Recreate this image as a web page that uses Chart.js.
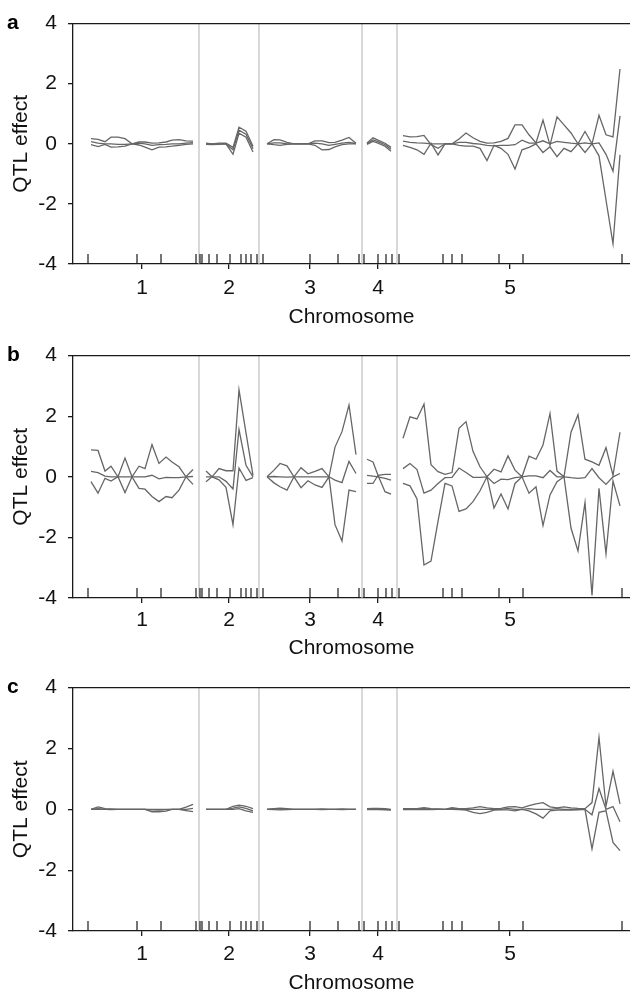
<!DOCTYPE html>
<html>
<head>
<meta charset="utf-8">
<script src="https://cdn.jsdelivr.net/npm/chart.js@4.4.1/dist/chart.umd.min.js"></script>
<style>
  body { margin: 0; background: #fff; }
  .panel { width: 630px; height: 332px; }
</style>
</head>
<body>
<div class="panel"><canvas id="chartA" width="630" height="332"></canvas></div>
<div class="panel"><canvas id="chartB" width="630" height="332"></canvas></div>
<div class="panel"><canvas id="chartC" width="630" height="332"></canvas></div>
<script>
// genome layout on the x axis (cumulative map position)
const chrNames = ['1', '2', '3', '4', '5'];
const chrLabelPos = [69, 156, 237, 305, 437];
const chrBounds = [126, 186, 289, 324];
const markerPos = [15, 64, 88, 123, 127, 129, 136, 144, 157, 168, 173, 178, 184,
  190, 237, 265, 286, 291, 305, 313, 319, 326, 370, 379, 389, 426, 450, 549];

// scan points, chromosome by chromosome
const chrSizes = [16, 8, 14, 5, 32];
const scanPos = [
  18, 25, 32, 38, 45, 52, 59, 66, 72, 79, 86, 93, 99, 106, 113, 120,
  133, 139, 146, 153, 160, 166, 173, 180,
  194, 201, 207, 214, 221, 228, 235, 242, 249, 256, 262, 269, 276, 283,
  294, 300, 305, 312, 318,
  330, 337, 344, 351, 358, 365, 372, 379, 386, 393, 400, 407, 414, 421, 428, 435,
  442, 449, 456, 463, 470, 477, 484, 491, 498, 505, 512, 519, 526, 533, 540, 547
];

// panel a
const aUpper = [
  0.17, 0.15, 0.07, 0.22, 0.22, 0.17, 0.00, 0.06, 0.06, 0.02, 0.03, 0.06, 0.12, 0.14, 0.10, 0.09,
  0.02, 0.00, 0.02, 0.02, -0.12, 0.55, 0.42, -0.08,
  0.00, 0.14, 0.13, 0.05, 0.00, 0.00, 0.00, 0.10, 0.10, 0.04, 0.05, 0.12, 0.21, 0.02,
  0.03, 0.20, 0.12, 0.02, -0.12,
  0.27, 0.23, 0.24, 0.28, -0.03, -0.15, 0.00, 0.00, 0.16, 0.36, 0.20, 0.08, 0.02, 0.03, 0.08, 0.18,
  0.63, 0.63, 0.30, 0.03, 0.79, -0.05, 0.90, 0.63, 0.36, 0.00, 0.41, 0.00, 0.95, 0.30, 0.23, 2.49
];
const aMiddle = [
  0.07, 0.02, 0.00, 0.00, -0.02, -0.02, 0.00, 0.02, 0.00, -0.05, -0.03, -0.02, 0.00, 0.00, 0.02, 0.04,
  0.00, 0.00, 0.00, 0.00, -0.20, 0.45, 0.32, -0.16,
  0.00, 0.03, 0.03, 0.00, 0.00, 0.00, 0.00, 0.02, 0.00, -0.05, -0.02, 0.02, 0.05, 0.01,
  0.00, 0.13, 0.07, -0.03, -0.18,
  0.09, 0.05, 0.03, 0.02, 0.00, 0.00, 0.00, 0.00, 0.05, 0.05, 0.01, -0.01, -0.05, -0.07, -0.05, -0.05,
  -0.03, 0.12, 0.02, 0.02, 0.10, 0.00, 0.08, 0.05, 0.02, 0.00, 0.03, 0.00, 0.03, -0.35, -0.91, 0.93
];
const aLower = [
  -0.03, -0.09, -0.02, -0.11, -0.10, -0.08, 0.00, -0.04, -0.11, -0.20, -0.11, -0.10, -0.08, -0.05, -0.02, 0.00,
  -0.02, -0.03, -0.02, 0.00, -0.35, 0.35, 0.22, -0.27,
  0.00, -0.03, -0.05, -0.02, 0.00, 0.00, 0.00, -0.05, -0.20, -0.19, -0.10, -0.03, 0.00, 0.00,
  -0.02, 0.08, 0.02, -0.08, -0.25,
  -0.05, -0.12, -0.20, -0.35, 0.02, -0.37, 0.00, 0.00, -0.05, -0.08, -0.08, -0.15, -0.56, -0.05, -0.15, -0.35,
  -0.84, -0.20, -0.12, 0.00, -0.29, -0.10, -0.43, -0.15, -0.26, 0.00, -0.29, 0.00, -0.40, -1.87, -3.33, -0.37
];

// panel b
const bUpper = [
  0.89, 0.87, 0.19, 0.35, 0.00, 0.62, 0.00, 0.35, 0.27, 1.06, 0.44, 0.65, 0.49, 0.33, 0.00, 0.24,
  0.19, 0.00, 0.27, 0.20, 0.20, 2.87, 1.45, 0.05,
  0.00, 0.22, 0.44, 0.36, 0.00, 0.30, 0.10, 0.18, 0.27, 0.00, 0.98, 1.49, 2.37, 0.73,
  0.58, 0.49, 0.05, -0.49, -0.57,
  1.27, 1.98, 1.91, 2.40, 0.40, 0.17, 0.08, 0.14, 1.60, 1.82, 0.84, 0.33, 0.00, 0.25, 0.16, 0.69,
  0.22, 0.00, 0.68, 0.58, 1.05, 2.09, 0.19, 0.00, 1.47, 2.05, 0.58, 0.49, 0.38, 0.96, 0.05, 1.47
];
const bMiddle = [
  0.18, 0.14, 0.02, 0.00, 0.00, 0.00, 0.00, 0.00, 0.00, 0.05, -0.07, -0.02, -0.03, -0.03, 0.00, 0.01,
  0.00, 0.00, 0.00, -0.15, -0.40, 1.56, 0.38, 0.00,
  0.00, 0.01, 0.00, -0.01, 0.00, 0.00, 0.00, 0.00, 0.00, 0.00, -0.11, -0.19, 0.51, 0.11,
  0.05, 0.02, 0.00, -0.05, -0.11,
  0.27, 0.44, 0.24, -0.54, -0.44, -0.22, -0.03, -0.02, 0.29, 0.14, -0.02, -0.02, 0.00, -0.22, -0.08, -0.09,
  -0.03, 0.00, 0.03, 0.03, -0.03, 0.21, 0.00, 0.00, -0.03, -0.05, -0.03, 0.27, -0.03, -0.25, 0.00, 0.11
];
const bLower = [
  -0.16, -0.54, -0.05, -0.14, 0.00, -0.52, 0.00, -0.38, -0.41, -0.65, -0.82, -0.65, -0.69, -0.44, 0.00, -0.25,
  -0.16, 0.00, -0.10, -0.35, -1.58, 0.29, -0.12, -0.03,
  0.00, -0.20, -0.33, -0.44, 0.00, -0.36, -0.13, -0.27, -0.35, 0.00, -1.58, -2.12, -0.44, -0.49,
  -0.22, -0.22, 0.05, 0.08, 0.08,
  -0.22, -0.30, -0.73, -2.91, -2.78, -1.47, -0.22, -0.30, -1.14, -1.06, -0.82, -0.46, 0.00, -1.03, -0.57, -1.06,
  -0.22, 0.00, -0.54, -0.33, -1.61, -0.60, -0.16, 0.00, -1.69, -2.45, -0.85, -3.92, -0.38, -2.54, -0.14, -0.96
];

// panel c
const cUpper = [
  0.00, 0.08, 0.02, 0.01, 0.00, 0.00, 0.00, 0.00, 0.00, 0.00, 0.00, 0.00, 0.00, 0.00, 0.07, 0.16,
  0.00, 0.00, 0.00, 0.00, 0.10, 0.14, 0.10, 0.02,
  0.00, 0.02, 0.04, 0.02, 0.00, 0.00, 0.00, 0.00, 0.01, 0.00, 0.00, 0.01, 0.00, 0.00,
  0.02, 0.03, 0.03, 0.02, 0.00,
  0.02, 0.02, 0.02, 0.05, 0.02, 0.01, 0.00, 0.05, 0.02, 0.02, 0.05, 0.09, 0.05, 0.02, 0.03, 0.08,
  0.09, 0.05, 0.12, 0.18, 0.22, 0.08, 0.05, 0.08, 0.05, 0.03, 0.02, 0.22, 2.36, 0.10, 1.25, 0.18
];
const cMiddle = [
  0.00, 0.02, 0.00, 0.00, 0.00, 0.00, 0.00, 0.00, 0.00, -0.02, -0.03, -0.01, 0.00, 0.00, 0.00, 0.03,
  0.00, 0.00, 0.00, 0.00, 0.04, 0.08, 0.03, -0.05,
  0.00, 0.01, 0.01, 0.00, 0.00, 0.00, 0.00, 0.00, 0.00, 0.00, 0.00, 0.00, 0.00, 0.00,
  0.01, 0.01, 0.01, 0.00, -0.01,
  0.00, 0.00, 0.00, 0.02, 0.00, 0.00, 0.00, 0.02, 0.00, 0.00, 0.00, 0.00, 0.00, 0.00, 0.00, 0.03,
  0.00, 0.00, 0.02, 0.00, 0.00, 0.00, 0.02, 0.00, 0.00, 0.00, 0.00, -0.18, 0.68, 0.00, 0.09, -0.41
];
const cLower = [
  0.00, 0.00, 0.00, -0.01, 0.00, 0.00, 0.00, 0.00, 0.00, -0.08, -0.08, -0.06, 0.00, 0.00, -0.04, -0.08,
  0.00, 0.00, 0.00, 0.00, 0.00, 0.02, -0.05, -0.10,
  0.00, -0.01, -0.02, -0.01, 0.00, 0.00, 0.00, 0.00, -0.01, 0.00, 0.00, -0.01, 0.00, 0.00,
  -0.01, -0.01, -0.01, -0.02, -0.03,
  -0.01, -0.01, -0.01, 0.00, -0.01, 0.00, 0.00, 0.00, -0.01, -0.03, -0.10, -0.14, -0.10, -0.03, -0.02, -0.02,
  -0.05, 0.00, -0.05, -0.15, -0.29, -0.05, -0.03, -0.02, -0.03, -0.02, 0.00, -1.30, -0.10, -0.05, -1.09, -1.36
];

const FONT = '"Liberation Sans", Arial, Helvetica, sans-serif';
const LINE = '#666666';
const AXIS = '#1a1a1a';
const markH = 0.33;  // marker tick height in effect units

// one line per effect, broken between chromosomes
function scanData(vals) {
  const out = [];
  let k = 0;
  chrSizes.forEach(n => {
    for (let i = 0; i < n; i++, k++) out.push({ x: scanPos[k], y: vals[k] });
    out.push({ x: scanPos[k - 1] + 1, y: null });
  });
  return out;
}

function markerData() {
  const out = [];
  markerPos.forEach(m => out.push({ x: m, y: -4 }, { x: m, y: -4 + markH }, { x: m, y: null }));
  return out;
}

function boundData() {
  const out = [];
  chrBounds.forEach(b => out.push({ x: b, y: -4 }, { x: b, y: 4 }, { x: b, y: null }));
  return out;
}

const frame = {
  id: 'frame',
  afterDraw(chart, args, opts) {
    const { ctx, chartArea } = chart;
    ctx.save();
    ctx.strokeStyle = AXIS;
    ctx.lineWidth = 1.3;
    ctx.beginPath();
    ctx.moveTo(chartArea.left, chartArea.top);
    ctx.lineTo(chartArea.right, chartArea.top);
    ctx.stroke();
    ctx.fillStyle = '#000';
    ctx.font = 'bold 21px ' + FONT;
    ctx.textBaseline = 'middle';
    ctx.fillText(opts.letter, 7, chartArea.top);
    ctx.restore();
  }
};

function makePanel(id, letter, upper, middle, lower, p) {
  const line = vals => ({
    data: scanData(vals), borderColor: LINE, borderWidth: 1.3,
    pointRadius: 0, tension: 0, spanGaps: false, order: 1
  });
  new Chart(document.getElementById(id), {
    type: 'line',
    data: {
      datasets: [
        line(upper), line(middle), line(lower),
        { data: markerData(), borderColor: AXIS, borderWidth: 1.2, pointRadius: 0, spanGaps: false, order: 2 },
        { data: boundData(), borderColor: '#c4c4c4', borderWidth: 1.3, pointRadius: 0, spanGaps: false, order: 3 }
      ]
    },
    options: {
      responsive: false,
      animation: false,
      layout: { padding: { top: p.top, right: 0, left: 0, bottom: 0 } },
      plugins: { legend: { display: false }, tooltip: { enabled: false }, frame: { letter: letter } },
      scales: {
        x: {
          type: 'linear', min: 0, max: 557,
          afterFit: s => { s.height = p.axisH; },
          afterBuildTicks: s => { s.ticks = chrLabelPos.map(v => ({ value: v })); },
          ticks: {
            autoSkip: false, maxRotation: 0, padding: p.tickPad, color: '#111',
            font: { family: FONT, size: 21 },
            callback: (v, i) => chrNames[i]
          },
          grid: { drawOnChartArea: false, drawTicks: true, tickLength: 5, color: AXIS, lineWidth: 1.3 },
          border: { display: true, color: AXIS, width: 1.3 },
          title: { display: true, text: 'Chromosome', color: '#111', font: { family: FONT, size: 21 }, padding: { top: 0, bottom: p.titlePad } }
        },
        y: {
          min: -4, max: 4,
          afterFit: s => { s.width = 73; },
          ticks: { stepSize: 2, padding: 11, color: '#111', font: { family: FONT, size: 21 } },
          grid: { drawOnChartArea: false, drawTicks: true, tickLength: 5, color: AXIS, lineWidth: 1.3 },
          border: { display: true, color: AXIS, width: 1.3 },
          title: { display: true, text: 'QTL effect', color: '#111', font: { family: FONT, size: 21 }, padding: { top: 9, bottom: 0 } }
        }
      }
    },
    plugins: [frame]
  });
}

makePanel('chartA', 'a', aUpper, aMiddle, aLower, { top: 18, axisH: 68, tickPad: 7, titlePad: 2 });
makePanel('chartB', 'b', bUpper, bMiddle, bLower, { top: 21, axisH: 66, tickPad: 5, titlePad: 3 });
makePanel('chartC', 'c', cUpper, cMiddle, cLower, { top: 21, axisH: 65, tickPad: 6, titlePad: 0 });
</script>
</body>
</html>
